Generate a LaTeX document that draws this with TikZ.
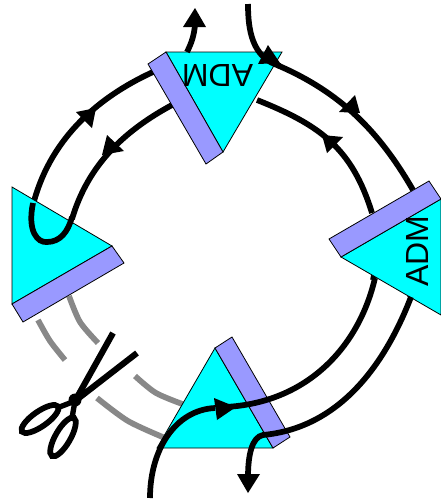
\documentclass[tikz,border=0pt]{standalone}
\usepackage{fontspec}
\setmainfont{Liberation Sans}
\definecolor{cyanfill}{RGB}{0,255,255}
\definecolor{plate}{RGB}{153,153,255}
\definecolor{cutgray}{RGB}{136,136,136}
\tikzset{
 prism/.style={fill=cyanfill,draw=black,line width=0.6pt},
 plate/.style={fill=plate,draw=black,line width=0.6pt},
 fibre/.style={draw=black,line width=4.3pt,line cap=butt},
 cutfibre/.style={draw=cutgray,line width=4.3pt,line cap=butt},
 head/.style={fill=black,draw=none},
 admlabel/.style={font=\fontsize{24}{24}\selectfont,inner sep=0pt}
}
\begin{document}
\begin{tikzpicture}[x=0.75pt,y=-0.75pt]
\useasboundingbox (0,0) rectangle (441,501);
\fill[white] (0,0) rectangle (441,501);
% rings behind prisms
\draw[fibre] (277,65) .. controls (340,92) and (379,131) .. (413,190);
\draw[fibre] (257,100) .. controls (320,125) and (352,148) .. (372,213);
\draw[fibre] (153,72) .. controls (94,99) and (49,142) .. (33,205);
\draw[fibre] (172,105) .. controls (124,131) and (88,165) .. (72,219);
\draw[cutfibre] plot[smooth] coordinates {(38,320) (50,341) (65,360)};
\draw[cutfibre] plot[smooth] coordinates {(97,398) (128,421) (165,438)};
\draw[cutfibre] plot[smooth] coordinates {(69,296) (80,322) (98,343)};
\draw[cutfibre] plot[smooth] coordinates {(135,376) (156,393) (185,405)};
\draw[fibre] (375,270) -- (373,280);
\draw[fibre] (411,290) -- (410,297);
% prisms
\draw[prism] (166,52) -- (282,52) -- (223,152) -- cycle;
\draw[plate] (166,52) -- (148,64) -- (206,164) -- (223,152) -- cycle;
\draw[prism] (12,187) -- (112,246) -- (12,304) -- cycle;
\draw[plate] (112,246) -- (124,263) -- (23,322) -- (12,304) -- cycle;
\draw[prism] (341,257) -- (441,199) -- (441,315) -- cycle;
\draw[plate] (341,257) -- (329,239) -- (429,181) -- (441,199) -- cycle;
\draw[prism] (157,448) -- (215,348) -- (273,448) -- cycle;
\draw[plate] (215,348) -- (232,337) -- (290,437) -- (273,448) -- cycle;
\node[admlabel,rotate=180] (admtop) at (217.5,76) {ADM};
\node[admlabel,rotate=90] (admright) at (417,251) {ADM};
% fibres over prisms
\draw[fibre] (187,52) .. controls (192,42) and (194,35) .. (195,25);
\fill[head] (183,27) -- (206,27) -- (195,8) -- cycle;
\draw[fibre] (248,4) .. controls (248,30) and (252,58) .. (280,66);
\fill[head] (258,64) -- (280,63) -- (268,45) -- cycle;
\draw[fibre] (33,203) .. controls (27,232) and (38,243) .. (47,242) .. controls (60,242) and (68,232) .. (72,217);
\draw[fibre] (150,498) .. controls (150,450) and (175,410) .. (215,408);
\draw[fibre] (375,278) .. controls (359,347) and (307,403) .. (225,407);
\fill[head] (214,398) -- (217,420) -- (236,407) -- cycle;
\draw[fibre] (411,297) .. controls (384,367) and (338,428) .. (263,435) .. controls (252,437) and (248,455) .. (248,477);
\fill[head] (237,474) -- (260,474) -- (248,493) -- cycle;
% ring heads
\fill[head] (355,95) -- (339,112) -- (360,113) -- cycle;
\fill[head] (322,135) -- (343,137) -- (327,153) -- cycle;
\fill[head] (76,112) -- (96,108) -- (92,128) -- cycle;
\fill[head] (107,135) -- (124,151) -- (102,155) -- cycle;
% scissors
\draw[line width=4.6pt] (113,333) -- (75,401);
\draw[line width=4.6pt] (137,353) -- (75,401);
\fill (75,400) circle (6.5);
\draw[line width=4.3pt,rotate around={35:(40,419)}] (40,419) ellipse (22 and 7.5);
\draw[line width=4.3pt,rotate around={60:(63,437)}] (63,437) ellipse (22 and 7.5);
\draw[line width=4pt] (75,401) -- (57,408);
\draw[line width=4pt] (75,401) -- (72,418);
\end{tikzpicture}
\end{document}
